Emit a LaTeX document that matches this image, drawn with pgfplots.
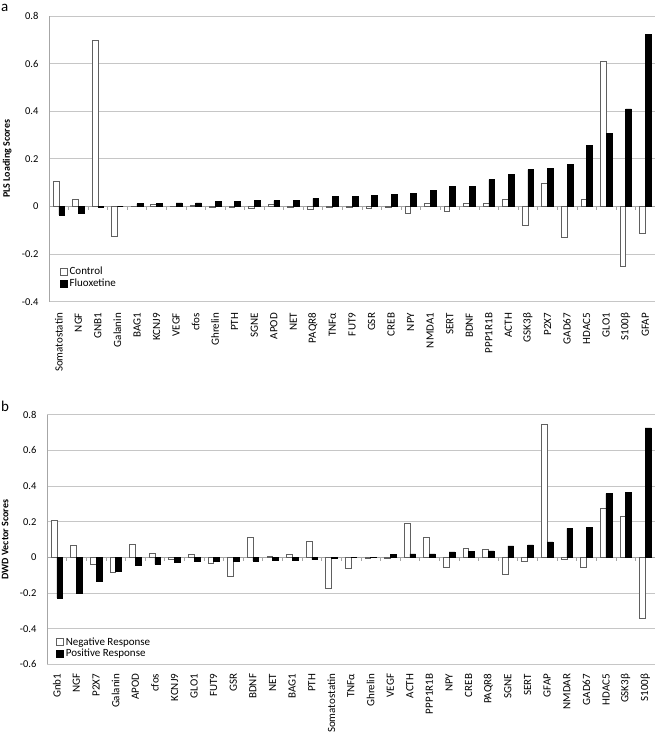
\documentclass[border=0pt]{standalone}
\usepackage{pgfplots}
\usepackage{pgfplotstable}
\pgfplotsset{compat=1.18}
\usepackage{fontspec}
\setmainfont{Carlito}

\pgfplotstableread{
x label ctrl fluox
0 Somatostatin 0.105 -0.035
1 NGF 0.032 -0.028
2 GNB1 0.700 -0.003
3 Galanin -0.126 0.000
4 BAG1 0.002 0.012
5 KCNJ9 0.010 0.012
6 VEGF 0.002 0.015
7 cfos 0.004 0.015
8 Ghrelin -0.003 0.021
9 PTH -0.002 0.021
10 SGNE -0.006 0.024
11 APOD 0.011 0.025
12 NET -0.004 0.027
13 PAQR8 -0.012 0.034
14 TNFα -0.004 0.041
15 FUT9 -0.003 0.041
16 GSR -0.008 0.046
17 CREB -0.002 0.050
18 NPY -0.029 0.055
19 NMDA1 0.015 0.067
20 SERT -0.022 0.083
21 BDNF 0.013 0.085
22 PPP1R1B 0.013 0.113
23 ACTH 0.032 0.134
24 GSK3β -0.081 0.155
25 P2X7 0.097 0.159
26 GAD67 -0.129 0.176
27 HDAC5 0.032 0.257
28 GLO1 0.610 0.306
29 S100β -0.252 0.410
30 GFAP -0.111 0.724
}\tabA

\pgfplotstableread{
x label neg pos
0 Gnb1 0.209 -0.228
1 NGF 0.067 -0.200
2 P2X7 -0.039 -0.134
3 Galanin -0.084 -0.076
4 APOD 0.076 -0.043
5 cfos 0.024 -0.039
6 KCNJ9 -0.008 -0.028
7 GLO1 0.015 -0.024
8 FUT9 -0.032 -0.022
9 GSR -0.104 -0.020
10 BDNF 0.110 -0.020
11 NET 0.006 -0.017
12 BAG1 0.015 -0.015
13 PTH 0.091 -0.013
14 Somatostatin -0.173 -0.003
15 TNFα -0.063 0.000
16 Ghrelin -0.004 -0.002
17 VEGF -0.006 0.015
18 ACTH 0.189 0.019
19 PPP1R1B 0.110 0.020
20 NPY -0.055 0.030
21 CREB 0.052 0.034
22 PAQR8 0.045 0.036
23 SGNE -0.095 0.064
24 SERT -0.022 0.070
25 GFAP 0.744 0.086
26 NMDAR -0.010 0.162
27 GAD67 -0.057 0.166
28 HDAC5 0.274 0.358
29 GSK3β 0.228 0.366
30 S100β -0.342 0.726
}\tabB

\pgfplotsset{
  panel/.style={
    scale only axis,
    ybar, bar width=5.8pt,
    xmin=-0.5, xmax=30.5,
    axis y line=left, axis x line=middle,
    axis line style={draw=gray!70, line width=0.6pt, -},
    ymajorgrids, grid style={gray!45, line width=0.7pt},
    xtick={0,...,30},
    minor x tick num=1,
    major tick length=0pt, minor tick length=3.5pt,
    tick align=outside,
    tick style={draw=gray!70, line width=0.5pt},
    hide obscured y ticks=false,
    hide obscured x ticks=false,
    yticklabel style={font=\fontsize{10.5}{12}\selectfont, xshift=-7pt},
    legend cell align=left,
    legend style={draw=none, fill=none, inner sep=0pt, row sep=-1.5pt,
      font=\fontsize{11}{12}\selectfont, anchor=north west},
    ylabel style={font=\bfseries\fontsize{10}{12}\selectfont, at={(rel axis cs:0,0.5)}, anchor=south},
  },
  sqleg/.style={legend image code/.code={\draw[##1] (0pt,-3.5pt) rectangle (7pt,3.5pt);}},
}

\begin{document}
\begin{tikzpicture}[x=1pt,y=1pt]
\useasboundingbox (0,0) rectangle (658,735);
\node[anchor=north west, inner sep=0pt, font=\fontsize{15}{16}\selectfont] at (1,731) {a};
\node[anchor=base west, inner sep=0pt, font=\fontsize{15}{16}\selectfont] at (1,323.3) {b};

\begin{axis}[panel,
  at={(49pt,433.3pt)}, anchor=south west,
  width=606pt, height=285.7pt,
  ymin=-0.4, ymax=0.8,
  ytick={-0.4,-0.2,0,0.2,0.4,0.6,0.8},
  yticklabels={-0.4,-0.2,0,0.2,0.4,0.6,0.8},
  xticklabels from table={\tabA}{label},
  xticklabel style={font=\fontsize{11}{12}\selectfont, yshift=-103pt, rotate=90, anchor=east},
  ylabel={PLS Loading Scores},
  ylabel style={yshift=34pt},
  legend style={at={(rel axis cs:0.018,0.128)}},
]
\addplot[sqleg, bar shift=-2.9pt, fill=white, draw=gray!75!black, line width=0.5pt] table[x=x, y=ctrl] {\tabA};
\addplot[sqleg, bar shift=2.9pt, fill=black, draw=black, line width=0.5pt] table[x=x, y=fluox] {\tabA};
\legend{Control, Fluoxetine}
\end{axis}

\begin{axis}[panel,
  at={(47pt,70.7pt)}, anchor=south west,
  width=608pt, height=249.6pt,
  ymin=-0.6, ymax=0.8,
  ytick={-0.6,-0.4,-0.2,0,0.2,0.4,0.6,0.8},
  yticklabels={-0.6,-0.4,-0.2,0,0.2,0.4,0.6,0.8},
  xticklabels from table={\tabB}{label},
  xticklabel style={font=\fontsize{11}{12}\selectfont, yshift=-113pt, rotate=90, anchor=east},
  ylabel={DWD Vector Scores},
  ylabel style={yshift=35pt},
  legend style={at={(rel axis cs:0.015,0.116)}},
]
\addplot[sqleg, bar shift=-2.9pt, fill=white, draw=gray!75!black, line width=0.5pt] table[x=x, y=neg] {\tabB};
\addplot[sqleg, bar shift=2.9pt, fill=black, draw=black, line width=0.5pt] table[x=x, y=pos] {\tabB};
\legend{Negative Response, Positive Response}
\end{axis}
\end{tikzpicture}
\end{document}
